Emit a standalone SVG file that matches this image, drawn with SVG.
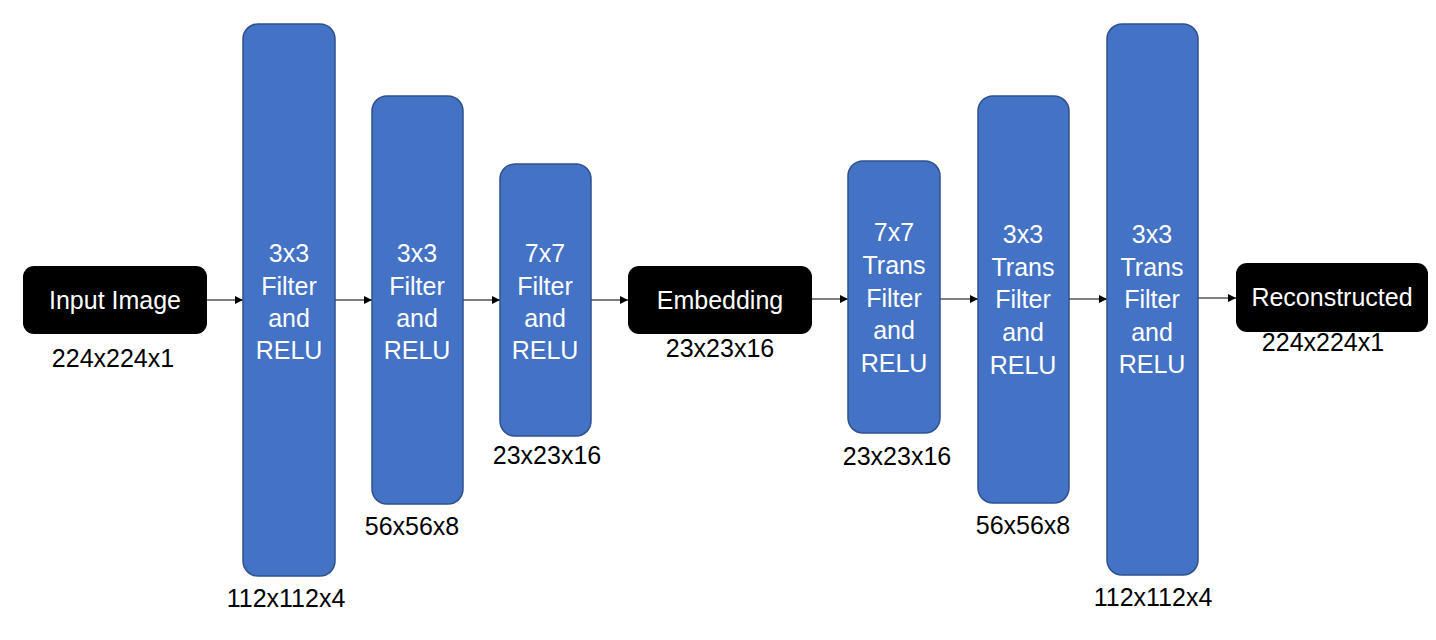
<svg xmlns="http://www.w3.org/2000/svg" width="1436" height="640" viewBox="0 0 1436 640">
<defs>
<style>
.blk{fill:#000000}
.blu{fill:#4472C4;stroke:#2F528F;stroke-width:1.5}
.wt{fill:#FFFFFF;font-family:"Liberation Sans",Arial,sans-serif;font-size:25px;text-anchor:middle}
.lb{fill:#000000;font-family:"Liberation Sans",Arial,sans-serif;font-size:25px;text-anchor:middle}
.ln{stroke:#000000;stroke-width:1.2;fill:none;marker-end:url(#ah)}
</style>
<marker id="ah" viewBox="0 0 10 10" refX="10" refY="5" markerWidth="8" markerHeight="8" markerUnits="userSpaceOnUse" orient="auto">
<path d="M0,0 L10,5 L0,10 Z" fill="#000000"/>
</marker>
</defs>
<rect width="1436" height="640" fill="#FFFFFF"/>
<g id="connectors">
<line class="ln" x1="207" y1="300" x2="243" y2="300"/>
<line class="ln" x1="335" y1="300" x2="372" y2="300"/>
<line class="ln" x1="463" y1="300" x2="500" y2="300"/>
<line class="ln" x1="591" y1="300" x2="628" y2="300"/>
<line class="ln" x1="812" y1="299" x2="848" y2="299"/>
<line class="ln" x1="940" y1="299" x2="978" y2="299"/>
<line class="ln" x1="1069" y1="299" x2="1107" y2="299"/>
<line class="ln" x1="1198" y1="298" x2="1236" y2="298"/>
</g>
<g id="input">
<rect class="blk" x="23" y="266" width="184" height="68" rx="11"/>
<text class="wt" x="115" y="309">Input Image</text>
<text class="lb" x="113" y="367">224x224x1</text>
</g>
<g id="enc1">
<rect class="blu" x="243" y="24" width="92" height="552" rx="15"/>
<text class="wt" x="289" y="262">3x3</text>
<text class="wt" x="289" y="295">Filter</text>
<text class="wt" x="289" y="327">and</text>
<text class="wt" x="289" y="359">RELU</text>
<text class="lb" x="286" y="607">112x112x4</text>
</g>
<g id="enc2">
<rect class="blu" x="372" y="96" width="91" height="408" rx="15"/>
<text class="wt" x="417" y="262">3x3</text>
<text class="wt" x="417" y="295">Filter</text>
<text class="wt" x="417" y="327">and</text>
<text class="wt" x="417" y="359">RELU</text>
<text class="lb" x="412" y="535">56x56x8</text>
</g>
<g id="enc3">
<rect class="blu" x="500" y="164" width="91" height="272" rx="15"/>
<text class="wt" x="545" y="262">7x7</text>
<text class="wt" x="545" y="295">Filter</text>
<text class="wt" x="545" y="327">and</text>
<text class="wt" x="545" y="359">RELU</text>
<text class="lb" x="547" y="464">23x23x16</text>
</g>
<g id="embedding">
<rect class="blk" x="628" y="266" width="184" height="68" rx="11"/>
<text class="wt" x="720" y="309">Embedding</text>
<text class="lb" x="720" y="357">23x23x16</text>
</g>
<g id="dec1">
<rect class="blu" x="848" y="161" width="92" height="272" rx="15"/>
<text class="wt" x="894" y="241">7x7</text>
<text class="wt" x="894" y="274">Trans</text>
<text class="wt" x="894" y="307">Filter</text>
<text class="wt" x="894" y="339">and</text>
<text class="wt" x="894" y="372">RELU</text>
<text class="lb" x="897" y="465">23x23x16</text>
</g>
<g id="dec2">
<rect class="blu" x="978" y="96" width="91" height="407" rx="15"/>
<text class="wt" x="1023" y="243">3x3</text>
<text class="wt" x="1023" y="276">Trans</text>
<text class="wt" x="1023" y="308">Filter</text>
<text class="wt" x="1023" y="341">and</text>
<text class="wt" x="1023" y="374">RELU</text>
<text class="lb" x="1023" y="534">56x56x8</text>
</g>
<g id="dec3">
<rect class="blu" x="1107" y="24" width="91" height="551" rx="15"/>
<text class="wt" x="1152" y="243">3x3</text>
<text class="wt" x="1152" y="276">Trans</text>
<text class="wt" x="1152" y="308">Filter</text>
<text class="wt" x="1152" y="341">and</text>
<text class="wt" x="1152" y="373">RELU</text>
<text class="lb" x="1153" y="606">112x112x4</text>
</g>
<g id="output">
<rect class="blk" x="1236" y="263" width="192" height="69" rx="11"/>
<text class="wt" x="1332" y="306">Reconstructed</text>
<text class="lb" x="1323" y="351">224x224x1</text>
</g>
</svg>
